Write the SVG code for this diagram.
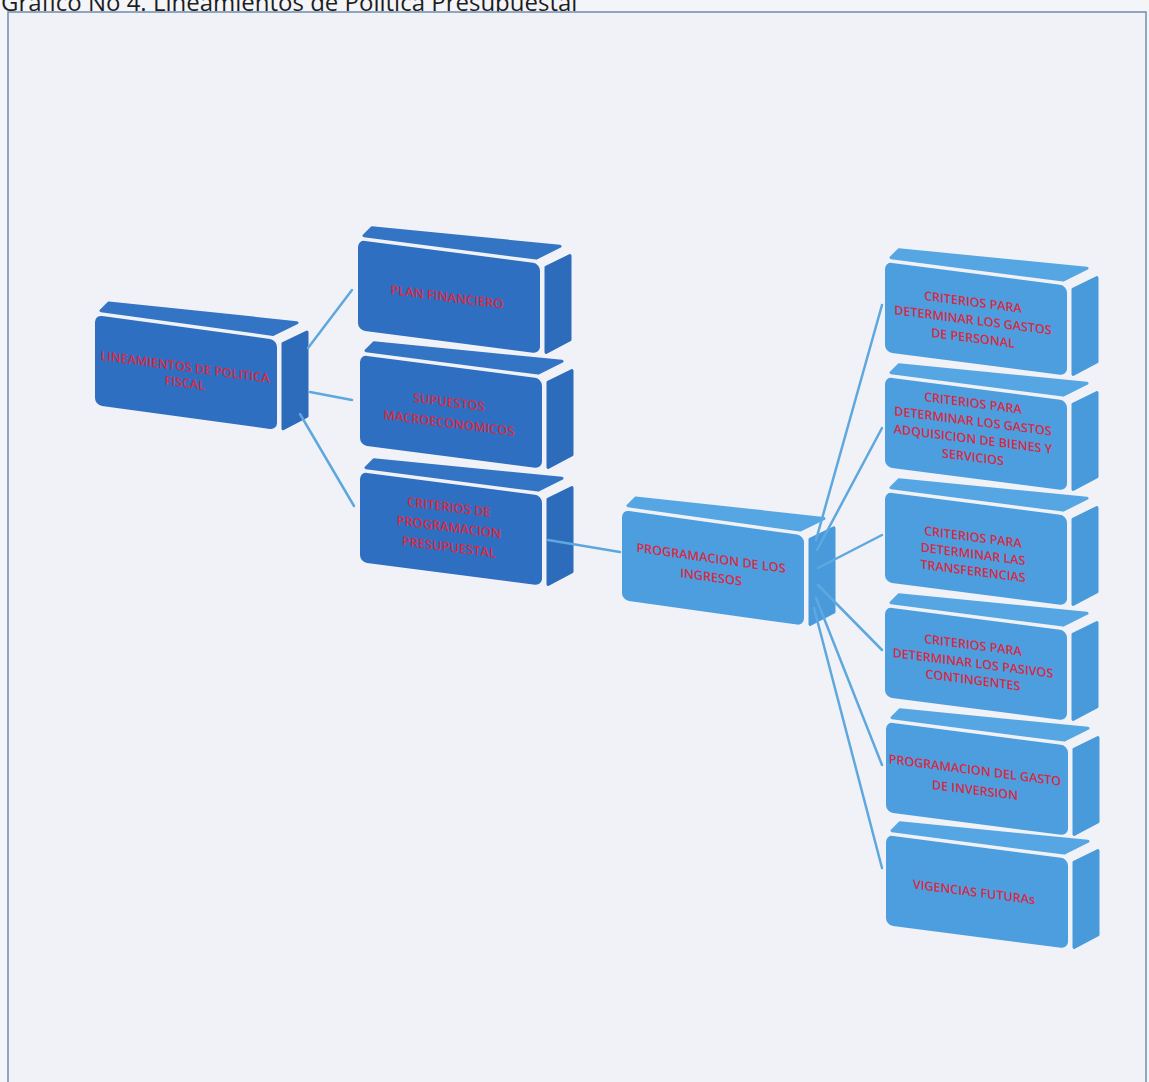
<svg xmlns="http://www.w3.org/2000/svg" xmlns:xlink="http://www.w3.org/1999/xlink" width="1149" height="1082" viewBox="0 0 1149 1082">
<style>
  .title { font-family: "Open Sans", "Liberation Sans", sans-serif; font-size: 24px; fill: #1e1e1e; }
  .lbl { font-family: "Open Sans", "Liberation Sans", sans-serif; fill: #d92a45; font-weight: 600; text-anchor: middle; }
  .dkf { fill: #2f6fc1; }
  .dkt { fill: #3374c4; stroke: #3374c4; stroke-width: 3; stroke-linejoin: round; }
  .dks { fill: #2d6bbb; stroke: #2d6bbb; stroke-width: 3; stroke-linejoin: round; }
  .ltf { fill: #4c9edf; }
  .ltt { fill: #55a6e3; stroke: #55a6e3; stroke-width: 3; stroke-linejoin: round; }
  .lts { fill: #489ada; stroke: #489ada; stroke-width: 3; stroke-linejoin: round; }
  .conn { stroke: #5ea8df; stroke-width: 2.5; fill: none; stroke-linecap: round; }
</style>
<defs>
  <g id="boxDark">
    <polygon class="dkt" points="6,-5 178,-5 202,-20 14,-14"/>
    <polygon class="dks" points="188,3 212,-12 212,72 188,88"/>
    <rect class="dkf" x="0" y="0" width="182" height="90" rx="7"/>
  </g>
  <g id="boxLight">
    <polygon class="ltt" points="6,-5 178,-5 202,-20 14,-14"/>
    <polygon class="lts" points="188,3 212,-12 212,72 188,88"/>
    <rect class="ltf" x="0" y="0" width="182" height="90" rx="7"/>
  </g>
</defs>
<rect x="0" y="0" width="1149" height="1082" fill="#f4f5f9"/>
<text class="title" x="1" y="11">Grafico No 4. Lineamientos de Politica Presupuestal</text>
<rect x="8" y="12" width="1138" height="1080" fill="#f1f2f7" stroke="#6d8cab" stroke-width="1.5"/>

<g id="n-lineamientos" transform="translate(95,315) skewY(7.8)">
  <use xlink:href="#boxDark"/>
  <text class="lbl" font-size="12.5"><tspan x="90" y="44">LINEAMIENTOS DE POLITICA</tspan><tspan x="90" y="60">FISCAL</tspan></text>
</g>
<g id="n-plan" transform="translate(358,240) skewY(7.4)">
  <use xlink:href="#boxDark"/>
  <text class="lbl" font-size="12.8"><tspan x="89" y="50">PLAN FINANCIERO</tspan></text>
</g>
<g id="n-supuestos" transform="translate(360,355) skewY(7.4)">
  <use xlink:href="#boxDark"/>
  <text class="lbl" font-size="12.6"><tspan x="89" y="40">SUPUESTOS</tspan><tspan x="89" y="61">MACROECONOMICOS</tspan></text>
</g>
<g id="n-criterios" transform="translate(360,472) skewY(7.4)">
  <use xlink:href="#boxDark"/>
  <text class="lbl" font-size="12.8"><tspan x="89" y="28">CRITERIOS DE</tspan><tspan x="89" y="48">PROGRAMACION</tspan><tspan x="89" y="68">PRESUPUESTAL</tspan></text>
</g>
<g id="n-ingresos" transform="translate(622,510) skewY(8)">
  <use xlink:href="#boxLight"/>
  <text class="lbl" font-size="12.6"><tspan x="89" y="40">PROGRAMACION DE LOS</tspan><tspan x="89" y="59">INGRESOS</tspan></text>
</g>
<g id="n-personal" transform="translate(885,262) skewY(7.4)">
  <use xlink:href="#boxLight"/>
  <text class="lbl" font-size="12.5"><tspan x="88" y="33">CRITERIOS PARA</tspan><tspan x="88" y="51">DETERMINAR LOS GASTOS</tspan><tspan x="88" y="69">DE PERSONAL</tspan></text>
</g>
<g id="n-bienes" transform="translate(885,377) skewY(7.4)">
  <use xlink:href="#boxLight"/>
  <text class="lbl" font-size="12.5"><tspan x="88" y="19">CRITERIOS PARA</tspan><tspan x="88" y="37">DETERMINAR LOS GASTOS</tspan><tspan x="88" y="55">ADQUISICION DE BIENES Y</tspan><tspan x="88" y="73">SERVICIOS</tspan></text>
</g>
<g id="n-transferencias" transform="translate(885,492) skewY(7.4)">
  <use xlink:href="#boxLight"/>
  <text class="lbl" font-size="12.5"><tspan x="88" y="38">CRITERIOS PARA</tspan><tspan x="88" y="55">DETERMINAR LAS</tspan><tspan x="88" y="72">TRANSFERENCIAS</tspan></text>
</g>
<g id="n-pasivos" transform="translate(885,607) skewY(7.4)">
  <use xlink:href="#boxLight"/>
  <text class="lbl" font-size="12.5"><tspan x="88" y="31">CRITERIOS PARA</tspan><tspan x="88" y="49">DETERMINAR  LOS PASIVOS</tspan><tspan x="88" y="66">CONTINGENTES</tspan></text>
</g>
<g id="n-inversion" transform="translate(886,722) skewY(7.4)">
  <use xlink:href="#boxLight"/>
  <text class="lbl" font-size="12.5"><tspan x="89" y="41">PROGRAMACION DEL GASTO</tspan><tspan x="89" y="61">DE INVERSION</tspan></text>
</g>
<g id="n-vigencias" transform="translate(886,835) skewY(7.4)">
  <use xlink:href="#boxLight"/>
  <text class="lbl" font-size="12.5"><tspan x="88" y="50">VIGENCIAS FUTURAs</tspan></text>
</g>

<g id="connectors">
  <line class="conn" x1="308" y1="348" x2="352" y2="290"/>
  <line class="conn" x1="310" y1="392" x2="352" y2="400"/>
  <line class="conn" x1="300" y1="414" x2="354" y2="506"/>
  <line class="conn" x1="548" y1="540" x2="620" y2="552"/>
  <line class="conn" x1="816" y1="540" x2="882" y2="305"/>
  <line class="conn" x1="817" y1="550" x2="882" y2="428"/>
  <line class="conn" x1="818" y1="568" x2="882" y2="535"/>
  <line class="conn" x1="818" y1="585" x2="882" y2="650"/>
  <line class="conn" x1="816" y1="598" x2="882" y2="765"/>
  <line class="conn" x1="814" y1="608" x2="882" y2="868"/>
</g>
</svg>
